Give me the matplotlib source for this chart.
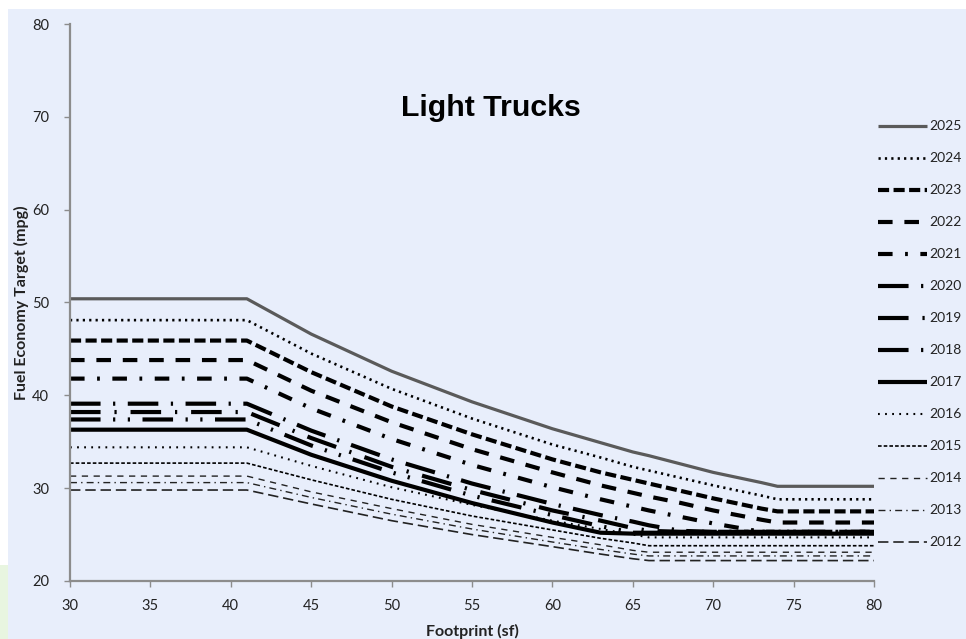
import matplotlib
matplotlib.use('Agg')
import matplotlib.pyplot as plt
from matplotlib.patches import Rectangle

plt.rcParams['lines.scale_dashes'] = False
plt.rcParams['font.family'] = ['Lato', 'DejaVu Sans']

# Data (footprint in sf, target in mpg)
footprint = [30, 41, 45, 50, 55, 60, 63, 65, 66, 68, 70, 73, 74, 80]

mpg_2025 = [50.4, 50.4, 46.6, 42.6, 39.3, 36.4, 34.9, 33.9, 33.5, 32.6, 31.7, 30.6, 30.2, 30.2]
mpg_2024 = [48.1, 48.1, 44.5, 40.7, 37.5, 34.7, 33.3, 32.3, 31.9, 31.1, 30.3, 29.2, 28.8, 28.8]
mpg_2023 = [45.9, 45.9, 42.5, 38.8, 35.8, 33.1, 31.7, 30.9, 30.5, 29.7, 28.9, 27.8, 27.5, 27.5]
mpg_2022 = [43.8, 43.8, 40.5, 37.1, 34.2, 31.7, 30.3, 29.5, 29.1, 28.4, 27.6, 26.6, 26.3, 26.3]
mpg_2021 = [41.8, 41.8, 38.6, 35.3, 32.5, 30.1, 28.8, 28.0, 27.6, 26.9, 26.2, 25.3, 25.3, 25.3]
mpg_2020 = [39.1, 39.1, 36.2, 33.1, 30.5, 28.3, 27.1, 26.4, 26.0, 25.4, 25.3, 25.3, 25.3, 25.3]
mpg_2019 = [38.2, 38.2, 35.4, 32.3, 29.8, 27.6, 26.5, 25.7, 25.4, 25.3, 25.3, 25.3, 25.3, 25.3]
mpg_2018 = [37.4, 37.4, 34.6, 31.7, 29.2, 27.1, 25.9, 25.2, 25.2, 25.2, 25.2, 25.2, 25.2, 25.2]
mpg_2017 = [36.3, 36.3, 33.6, 30.8, 28.4, 26.3, 25.2, 25.1, 25.1, 25.1, 25.1, 25.1, 25.1, 25.1]
mpg_2016 = [34.4, 34.4, 32.4, 30.1, 28.2, 26.5, 25.6, 25.0, 24.7, 24.7, 24.7, 24.7, 24.7, 24.7]
mpg_2015 = [32.7, 32.7, 30.9, 28.8, 27.0, 25.5, 24.6, 24.1, 23.8, 23.8, 23.8, 23.8, 23.8, 23.8]
mpg_2014 = [31.3, 31.3, 29.6, 27.8, 26.1, 24.7, 23.9, 23.3, 23.1, 23.1, 23.1, 23.1, 23.1, 23.1]
mpg_2013 = [30.6, 30.6, 29.0, 27.2, 25.6, 24.2, 23.4, 22.9, 22.7, 22.7, 22.7, 22.7, 22.7, 22.7]
mpg_2012 = [29.8, 29.8, 28.3, 26.5, 25.0, 23.7, 22.9, 22.4, 22.2, 22.2, 22.2, 22.2, 22.2, 22.2]

years = ['2025', '2024', '2023', '2022', '2021', '2020', '2019',
         '2018', '2017', '2016', '2015', '2014', '2013', '2012']
series = [mpg_2025, mpg_2024, mpg_2023, mpg_2022, mpg_2021, mpg_2020, mpg_2019,
          mpg_2018, mpg_2017, mpg_2016, mpg_2015, mpg_2014, mpg_2013, mpg_2012]

# (color, linewidth, dash pattern in points or None for solid)
styles = [
    ('#5a5a5a', 2.3, None),
    ('black', 1.9, (1.6, 3.0)),
    ('black', 3.0, (8.0, 3.2)),
    ('black', 3.0, (10.5, 8.5)),
    ('black', 3.0, (10.5, 9.0, 2.0, 9.0)),
    ('black', 3.0, (22.0, 9.0, 1.6, 9.0)),
    ('black', 3.0, (22.0, 10.0, 1.6, 10.0)),
    ('black', 3.0, (22.0, 9.0, 1.6, 9.0, 1.6, 9.0)),
    ('black', 3.0, None),
    ('black', 1.5, (1.3, 3.8)),
    ('black', 1.2, (2.6, 1.5)),
    ('#222222', 1.0, (4.5, 4.0)),
    ('#222222', 1.0, (5.0, 3.0, 1.0, 3.0)),
    ('#222222', 1.2, (7.5, 3.5)),
]

fig = plt.figure(figsize=(9.66, 6.39), dpi=100)
fig.patch.set_facecolor('white')
fig.patches.append(Rectangle((8 / 966, 0), 1, 1 - 9 / 639, transform=fig.transFigure,
                             facecolor='#E8EEFB', edgecolor='none', zorder=-10))
fig.patches.append(Rectangle((0, 0), 8 / 966, 1 - 565 / 639, transform=fig.transFigure,
                             facecolor='#E8F5E0', edgecolor='none', zorder=-10))

ax = fig.add_axes([70 / 966, 1 - 581 / 639, 804 / 966, 557 / 639])
ax.set_facecolor('none')

handles = []
for yr, vals, (col, lw, dash) in zip(years, series, styles):
    if dash is None:
        line, = ax.plot(footprint, vals, color=col, lw=lw, label=yr,
                        solid_capstyle='butt')
    else:
        line, = ax.plot(footprint, vals, color=col, lw=lw, label=yr,
                        dashes=dash, dash_capstyle='butt')
    handles.append(line)

ax.set_xlim(30, 80)
ax.set_ylim(20, 80)
ax.set_xticks(range(30, 81, 5))
ax.set_yticks(range(20, 81, 10))

for s in ['top', 'right']:
    ax.spines[s].set_visible(False)
for s in ['left', 'bottom']:
    ax.spines[s].set_color('#8c8c8c')
    ax.spines[s].set_linewidth(1.6)

ax.tick_params(axis='both', colors='#8c8c8c', labelcolor='#222222',
               labelsize=10.5, length=4, width=1)
ax.tick_params(axis='y', pad=11)
ax.tick_params(axis='x', pad=9)

ax.set_xlabel('Footprint (sf)', fontsize=11.5, fontweight='bold', color='#222222',
              labelpad=8)
ax.set_ylabel('Fuel Economy Target (mpg)', fontsize=11.5, fontweight='bold',
              color='#222222', labelpad=2)

ax.text(0.5236, 0.835, 'Light Trucks', transform=ax.transAxes, ha='center',
        va='baseline', fontsize=21.8, fontweight='bold', family='Liberation Sans')

ax.legend(handles=handles, loc='upper left', bbox_to_anchor=(878 / 966, 1 - 120.5 / 639),
          bbox_transform=fig.transFigure, frameon=False, fontsize=10,
          handlelength=3.5, handletextpad=0.22, labelspacing=1.44,
          borderpad=0, borderaxespad=0, labelcolor='#222222')

fig.savefig('out.png', dpi=100)
